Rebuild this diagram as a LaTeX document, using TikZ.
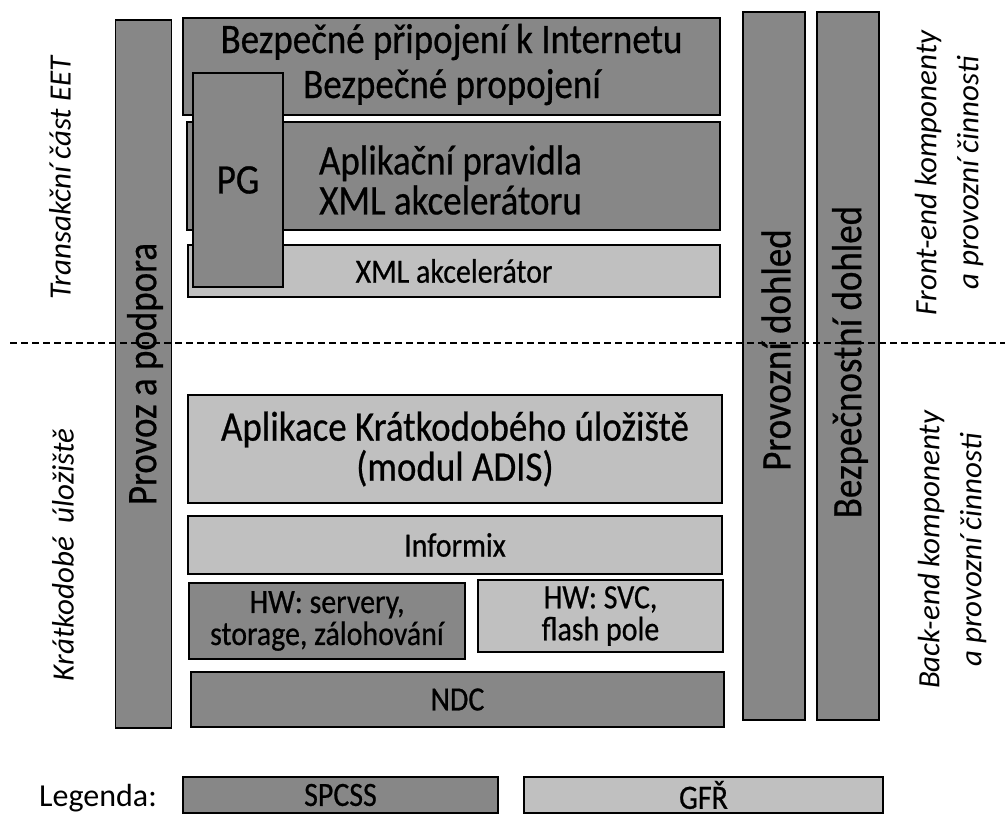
\documentclass[tikz,border=0pt]{standalone}
\usepackage{fontspec}
\setmainfont{Carlito}
\newfontfamily\boxfont{Carlito}[FakeStretch=0.88, FakeBold=0.6]
\definecolor{spcssgrey}{HTML}{878787}
\definecolor{gfrgrey}{HTML}{C0C0C0}
\begin{document}
\begin{tikzpicture}[x=1pt, y=-1pt,
    box/.style={draw=black, line width=1.4pt, inner sep=0pt, align=center},
    spcss/.style={box, fill=spcssgrey},
    gfr/.style={box, fill=gfrgrey},
    big/.style={font=\boxfont\fontsize{42}{40}\selectfont},
    small/.style={font=\boxfont\fontsize{34}{32}\selectfont},
    side/.style={font=\fontsize{31}{42}\selectfont\itshape, rotate=90, align=center}]
  \useasboundingbox (0,0) rectangle (1005,817);
  % svisle pruhy
  \node[spcss, rotate=90, minimum width=708pt, minimum height=56pt] (podpora) at (143.5,374) {};
  \node[spcss, rotate=90, minimum width=708pt, minimum height=62pt] (provozni) at (774,366) {};
  \node[spcss, rotate=90, minimum width=708pt, minimum height=62pt] (bezpecnostni) at (848,366) {};
  \node[big, rotate=90] (podporatext) at (145,374) {Provoz a podpora};
  \node[big, rotate=90] (provoznitext) at (776,350) {Provozní dohled};
  \node[big, rotate=90] (bezpecnostnitext) at (850,362) {Bezpečnostní dohled};
  % transakcni cast
  \node[spcss, minimum width=537pt, minimum height=97pt] (internet) at (451.5,66.5) {};
  \node[big, anchor=base] (internettext) at (451.5,53) {Bezpečné připojení k Internetu};
  \node[big, anchor=base] (propojeni) at (452,98) {Bezpečné propojení};
  \node[spcss, minimum width=533pt, minimum height=108pt] (pravidla) at (453.5,176) {};
  \node[big, align=center] (pravidlatext) at (450.5,180) {Aplikační pravidla\\XML akcelerátoru};
  \node[gfr, small, minimum width=532pt, minimum height=52pt] (xml) at (454,271) {XML akcelerátor};
  \node[spcss, big, minimum width=90pt, minimum height=214pt] (pg) at (238,180) {PG};
  % kratkodobe uloziste
  \node[gfr, big, minimum width=534pt, minimum height=108pt] (adis) at (455,449) {Aplikace Krátkodobého úložiště\\(modul ADIS)};
  \node[gfr, small, minimum width=534pt, minimum height=58pt] (informix) at (455,545) {Informix};
  \node[spcss, small, minimum width=276pt, minimum height=76pt] (servery) at (327,621) {HW: servery,\\storage, zálohování};
  \node[gfr, small, minimum width=245pt, minimum height=72pt] (svc) at (600.5,616) {HW: SVC,\\flash pole};
  \node[spcss, small, minimum width=533pt, minimum height=55pt] (ndc) at (457.5,699.5) {NDC};
  % popisky
  \node[side] (transakcni) at (60,178) {Transakční část EET};
  \node[side] (kratkodobe) at (63,555) {Krátkodobé\ \ úložiště};
  \node[side] (frontend) at (949,173) {Front-end komponenty\\a provozní činnosti};
  \node[side] (backend) at (952,550) {Back-end komponenty\\a provozní činnosti};
  % hranice
  \coordinate (dashl) at (10,343);
  \coordinate (dashr) at (1005,343);
  \draw[dash pattern=on 7pt off 4pt, line width=1.3pt] (dashl) -- (dashr);
  % legenda
  \node[font=\fontsize{32}{36}\selectfont, anchor=base] (legenda) at (98,806) {Legenda:};
  \node[spcss, small, minimum width=315pt, minimum height=36pt] (legspcss) at (340.5,795) {SPCSS};
  \node[gfr, small, minimum width=359pt, minimum height=36pt] (leggfr) at (703.5,795) {GFŘ};
\end{tikzpicture}
\end{document}
